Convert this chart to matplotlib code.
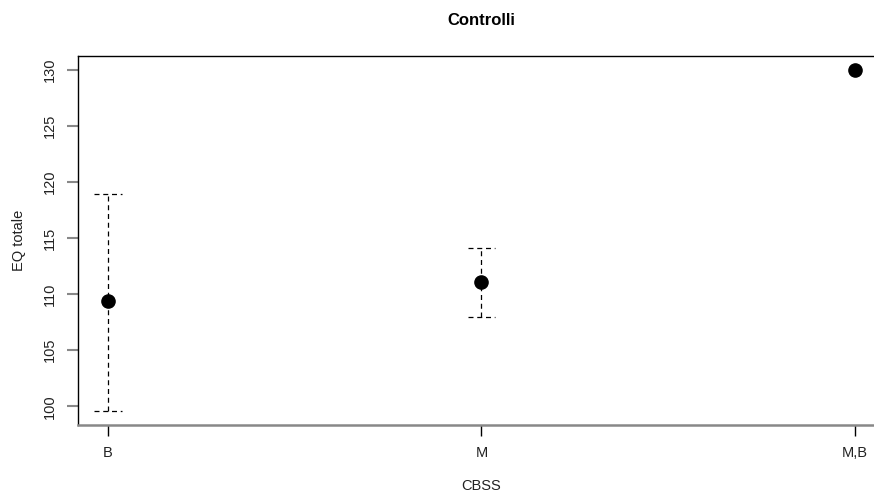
import numpy as np
import matplotlib.pyplot as plt

plt.rcParams['font.family'] = ['Liberation Sans', 'DejaVu Sans']

# group means with their confidence limits (no interval for the single-case group)
groups = ['B', 'M', 'M,B']
means = [109.35, 111.1, 130.0]
lower = [99.55, 107.95, np.nan]
upper = [118.9, 114.15, np.nan]
y_ticks = [100, 105, 110, 115, 120, 125, 130]

fig = plt.figure(figsize=(8.74, 4.93), dpi=100)
ax = fig.add_axes([78 / 874, 68 / 493, 807 / 874, 369 / 493])

x = np.arange(1, len(groups) + 1)
cap = 0.037
for xi, lo, hi in zip(x, lower, upper):
    if np.isnan(lo):
        continue
    ax.plot([xi, xi], [lo, hi], color='black', lw=0.9, ls=(0, (4, 3)))
    ax.plot([xi - cap, xi + cap], [lo, lo], color='black', lw=0.9, ls=(0, (4, 3)))
    ax.plot([xi - cap, xi + cap], [hi, hi], color='black', lw=0.9, ls=(0, (4, 3)))

ax.plot(x, means, 'o', color='black', markersize=9.5, zorder=3)

ax.set_xlim(1 - 0.08, 3 + 0.08)
ax.set_ylim(98.33, 131.22)
ax.set_xticks(x)
ax.set_xticklabels(groups)
ax.set_yticks(y_ticks)
ax.set_yticklabels([str(t) for t in y_ticks], rotation=90, va='center')

ax.tick_params(axis='x', length=8, width=1, color='black', labelsize=10.5,
               pad=7, labelcolor='#222222')
ax.tick_params(axis='y', length=8, width=1.5, color='#888888', labelsize=10.5,
               pad=7, labelcolor='#222222')

for side in ['left', 'top', 'right']:
    ax.spines[side].set_linewidth(1.0)
ax.spines['bottom'].set_color('#888888')
ax.spines['bottom'].set_linewidth(1.8)

ax.set_title('Controlli', fontsize=12, fontweight='bold', pad=22)
# x label sits right at the lower edge of the figure
fig.text(481.5 / 874, 6.5 / 493, 'CBSS', fontsize=10.5, color='#222222',
         ha='center', va='center')
ax.set_ylabel('EQ totale', fontsize=10.5, labelpad=12, color='#222222')

fig.savefig('out.png', dpi=100)
